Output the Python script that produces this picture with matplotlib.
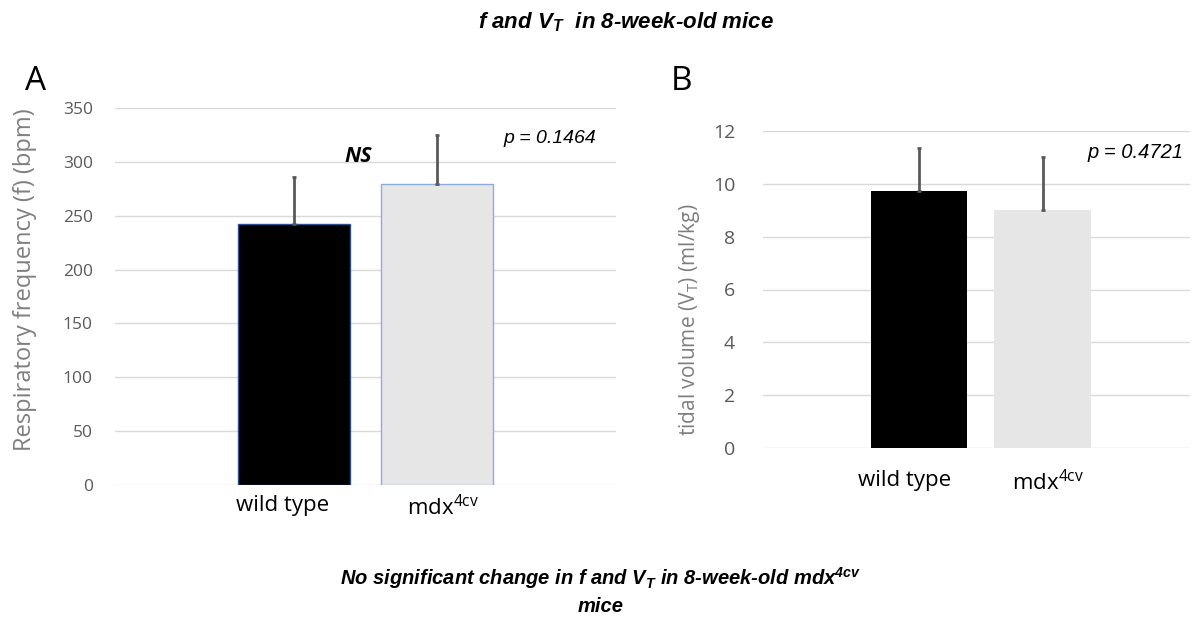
import matplotlib
matplotlib.use("Agg")
import matplotlib.pyplot as plt

categories = ["wild type", r"$\mathregular{mdx^{4cv}}$"]
freq_mean = [242, 279]
freq_err = [44, 46]
vt_mean = [9.73, 9.01]
vt_err = [1.62, 2.02]
freq_ticks = [0, 50, 100, 150, 200, 250, 300, 350]
vt_ticks = [0, 2, 4, 6, 8, 10, 12]
p_freq = "p = 0.1464"
p_vt = "p = 0.4721"

W, H = 1201, 618
fig = plt.figure(figsize=(W / 100, H / 100), dpi=100)

def px_axes(x0, x1, ytop, ybot):
    return fig.add_axes([x0 / W, (H - ybot) / H, (x1 - x0) / W, (ybot - ytop) / H])

bar_colors = ["#000000", "#E7E6E6"]
tick_col = "#595959"
grid_col = "#D9D9D9"
label_font = "Open Sans"

def style(ax, ticks, tsize):
    for s in ax.spines.values():
        s.set_visible(False)
    ax.set_yticks(ticks)
    ax.yaxis.grid(True, color=grid_col, lw=1)
    ax.set_axisbelow(True)
    ax.tick_params(axis="both", length=0)
    for t in ax.get_yticklabels():
        t.set_fontfamily(label_font)
        t.set_fontsize(tsize)
        t.set_color(tick_col)

# Panel A
axA = px_axes(115, 616, 108, 485)
xs = [0, 1]
axA.bar(xs, freq_mean, width=0.78, color=bar_colors,
        edgecolor=["#2F4F8F", "#8FAADC"], linewidth=1, zorder=2)
axA.errorbar(xs, freq_mean, yerr=[[0, 0], freq_err], fmt="none",
             ecolor="#595959", elinewidth=2, capsize=1.5, capthick=2, zorder=3)
axA.set_xlim(-1.25, 2.25)
axA.set_ylim(0, 350)
style(axA, freq_ticks, 12.5)
axA.tick_params(axis="y", pad=16)
axA.set_xticks([-0.08, 1.04])
axA.set_xticklabels(categories, fontfamily=label_font, fontsize=16, color="black")
axA.tick_params(axis="x", pad=7)
axA.text(0.45, 305, "NS", fontfamily=label_font, fontweight="bold", fontstyle="italic",
         fontsize=15.5, ha="center", va="center")
axA.text(2.11, 322, p_freq, fontfamily="Liberation Sans", fontstyle="italic",
         fontsize=14, ha="right", va="center")
fig.text(25 / W, 1 - 280 / H, "Respiratory frequency (f) (bpm)", rotation=90,
         fontfamily=label_font, fontsize=17, color="#7F7F7F", ha="center", va="center")
fig.text(36 / W, 1 - 82 / H, "A", fontfamily=label_font, fontsize=24, ha="center", va="center")

# Panel B
axB = px_axes(763, 1190, 131, 448)
axB.bar(xs, vt_mean, width=0.78, color=bar_colors, zorder=2)
axB.errorbar(xs, vt_mean, yerr=[[0, 0], vt_err], fmt="none",
             ecolor="#595959", elinewidth=2, capsize=1.5, capthick=2, zorder=3)
axB.set_xlim(-1.26, 2.19)
axB.set_ylim(0, 12)
style(axB, vt_ticks, 14)
axB.tick_params(axis="y", pad=20)
axB.set_xticks([-0.12, 1.04])
axB.set_xticklabels(categories, fontfamily=label_font, fontsize=16, color="black")
axB.tick_params(axis="x", pad=16)
axB.text(2.14, 11.2, p_vt, fontfamily="Liberation Sans", fontstyle="italic",
         fontsize=14.5, ha="right", va="center")
fig.text(690 / W, 1 - 320 / H, r"tidal volume ($\mathregular{V_T}$) (ml/kg)", rotation=90,
         fontfamily=label_font, fontsize=15, color="#7F7F7F", ha="center", va="center")
fig.text(682 / W, 1 - 82 / H, "B", fontfamily=label_font, fontsize=24, ha="center", va="center")

# Titles
fig.text(626 / W, 1 - 22 / H, r"f and $\mathregular{V_T}$  in 8-week-old mice",
         fontfamily="Liberation Sans", fontweight="bold", fontstyle="italic",
         fontsize=16, ha="center", va="center")
fig.text(601 / W, 1 - 578 / H,
         r"No significant change in f and $\mathregular{V_T}$ in 8-week-old $\mathregular{mdx^{4cv}}$",
         fontfamily="Liberation Sans", fontweight="bold", fontstyle="italic",
         fontsize=14.5, ha="center", va="center")
fig.text(601 / W, 1 - 606 / H, "mice",
         fontfamily="Liberation Sans", fontweight="bold", fontstyle="italic",
         fontsize=14.5, ha="center", va="center")

fig.savefig("out.png", dpi=100)
